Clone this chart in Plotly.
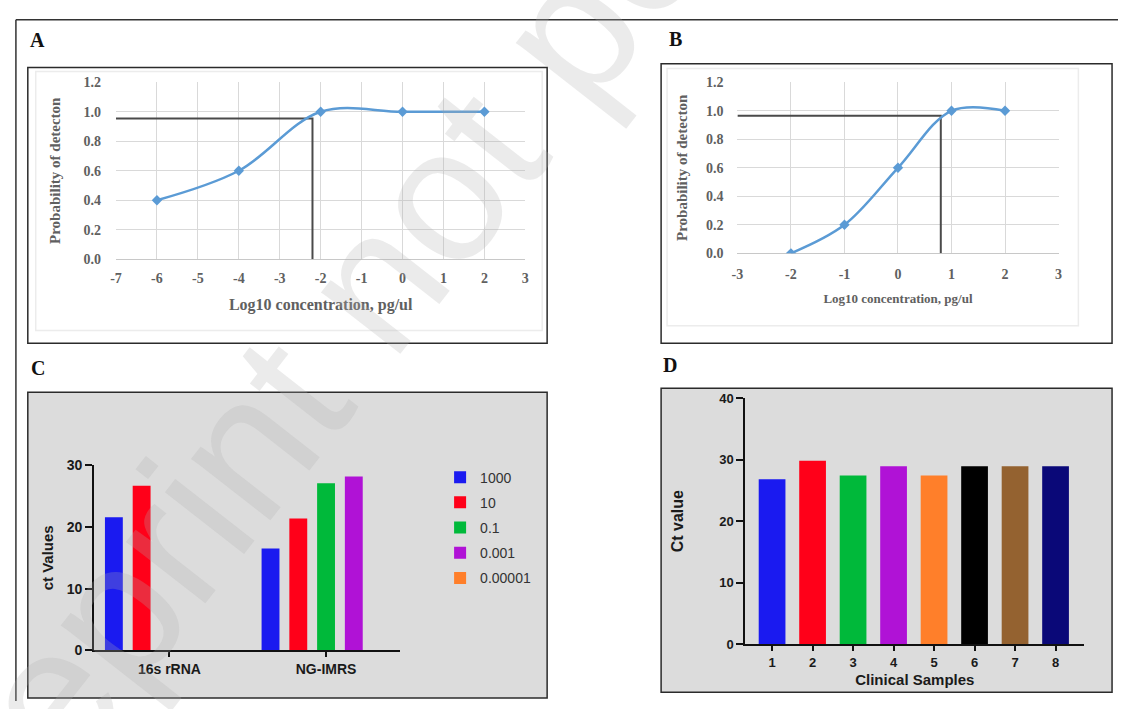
import plotly.graph_objects as go

W, H = 1122, 709

# ---------------- data ----------------
# Panel A: probability of detection vs log10 concentration
a_x = [-6, -4, -2, 0, 2]
a_y = [0.4, 0.6, 1.0, 1.0, 1.0]
a_lod_x = -2.2
a_lod_y = 0.955
a_xticks = [-7, -6, -5, -4, -3, -2, -1, 0, 1, 2, 3]
a_xticklabels = ["-7", "-6", "-5", "-4", "-3", "-2", "-1", "0", "1", "2", "3"]

# Panel B
b_x = [-2, -1, 0, 1, 2]
b_y = [0.0, 0.2, 0.6, 1.0, 1.0]
b_lod_x = 0.8
b_lod_y = 0.965
b_xticks = [-3, -2, -1, 0, 1, 2, 3]
b_xticklabels = ["-3", "-2", "-1", "0", "1", "2", "3"]

prob_ticks = [0.0, 0.2, 0.4, 0.6, 0.8, 1.0, 1.2]

# Panel C: ct values per assay and concentration
c_categories = ["16s rRNA", "NG-IMRS"]
c_series = ["1000", "10", "0.1", "0.001", "0.00001"]
c_1000 = [21.6, 16.5]
c_10 = [26.7, 21.4]
c_0_1 = [None, 27.1]
c_0_001 = [None, 28.2]
c_0_00001 = [None, None]
c_values = [c_1000, c_10, c_0_1, c_0_001, c_0_00001]
c_colors = ["#1a1af0", "#ff0019", "#00b93a", "#b012d6", "#ff7f2a"]

# Panel D: Ct value of clinical samples
d_samples = [1, 2, 3, 4, 5, 6, 7, 8]
d_ct = [26.8, 29.8, 27.4, 28.9, 27.4, 28.9, 28.9, 28.9]
d_colors = ["#1a1af0", "#ff0019", "#00b93a", "#b012d6", "#ff7f2a",
            "#000000", "#946230", "#0a0878"]


def px(x):
    return x / W


def py(y):
    return 1 - y / H


fig = go.Figure()

# ---------------- panel A ----------------
fig.add_trace(go.Scatter(
    x=[-7, a_lod_x, a_lod_x], y=[a_lod_y, a_lod_y, 0], mode="lines",
    line=dict(color="#4a4a4a", width=2), xaxis="x", yaxis="y",
    showlegend=False, hoverinfo="skip"))
fig.add_trace(go.Scatter(
    x=a_x, y=a_y, mode="lines+markers",
    line=dict(color="#5b9bd5", width=2.5, shape="spline", smoothing=1.0),
    marker=dict(symbol="diamond", size=8, color="#5b9bd5"),
    xaxis="x", yaxis="y", showlegend=False))

# ---------------- panel B ----------------
fig.add_trace(go.Scatter(
    x=[-3, b_lod_x, b_lod_x], y=[b_lod_y, b_lod_y, 0], mode="lines",
    line=dict(color="#4a4a4a", width=2), xaxis="x2", yaxis="y2",
    showlegend=False, hoverinfo="skip"))
fig.add_trace(go.Scatter(
    x=b_x, y=b_y, mode="lines+markers",
    line=dict(color="#5b9bd5", width=2.5, shape="spline", smoothing=1.0),
    marker=dict(symbol="diamond", size=8, color="#5b9bd5"),
    xaxis="x2", yaxis="y2", showlegend=False))

# ---------------- panel C ----------------
for name, vals, col in zip(c_series, c_values, c_colors):
    fig.add_trace(go.Bar(
        x=c_categories, y=vals, name=name, marker=dict(color=col, line=dict(width=0)),
        xaxis="x3", yaxis="y3", legendgroup=name, showlegend=True))

# ---------------- panel D ----------------
fig.add_trace(go.Bar(
    x=d_samples, y=d_ct, marker=dict(color=d_colors, line=dict(width=0)),
    width=0.66, xaxis="x4", yaxis="y4", showlegend=False))

serif = "Liberation Serif"
sans = "Liberation Sans, Arial"
excel_grey = "#606060"

tick_serif = dict(family=serif, size=14, color=excel_grey, weight="bold")

common_excel_x = dict(showgrid=True, gridcolor="#d9d9d9", gridwidth=1, zeroline=False,
                      showline=False, ticks="", fixedrange=True, tickfont=tick_serif)
common_excel_y = dict(showgrid=True, gridcolor="#d9d9d9", gridwidth=1, zeroline=True,
                      zerolinecolor="#c8c8c8", zerolinewidth=1, showline=False, ticks="",
                      tickvals=prob_ticks, tickformat=".1f", range=[0, 1.2],
                      tickfont=tick_serif, fixedrange=True)

prism_tick = dict(family=sans, size=14, color="#1a1a1a", weight="bold")

fig.update_layout(
    width=W, height=H,
    margin=dict(l=0, r=0, t=0, b=0),
    paper_bgcolor="white",
    plot_bgcolor="rgba(0,0,0,0)",
    barmode="group", bargap=0.114, bargroupgap=0.356,
    font=dict(family=sans),
    xaxis=dict(domain=[px(111), px(524)], range=[-7, 3], anchor="y",
               tickvals=a_xticks, ticktext=a_xticklabels, ticklabelstandoff=9,
               title=dict(text="Log10 concentration, pg/ul", standoff=13,
                          font=dict(family=serif, size=16, color=excel_grey, weight="bold")),
               **common_excel_x),
    yaxis=dict(domain=[py(257), py(76)], anchor="x", ticklabelstandoff=14,
               title=dict(text="Probability of detecton", standoff=19,
                          font=dict(family=serif, size=15, color=excel_grey, weight="bold")),
               **common_excel_y),
    xaxis2=dict(domain=[px(738), px(1062)], range=[-3, 3], anchor="y2",
                tickvals=b_xticks, ticktext=b_xticklabels, ticklabelstandoff=11,
                title=dict(text="Log10 concentration, pg/ul", standoff=12,
                           font=dict(family=serif, size=13, color=excel_grey, weight="bold")),
                **common_excel_x),
    yaxis2=dict(domain=[py(251), py(76)], anchor="x2", ticklabelstandoff=13,
                title=dict(text="Probability of detecton", standoff=14,
                           font=dict(family=serif, size=15, color=excel_grey, weight="bold")),
                **common_excel_y),
    xaxis3=dict(domain=[px(89), px(398)], range=[-0.48, 1.475], anchor="y3",
                type="category", showline=True, linecolor="#111", linewidth=2,
                ticks="outside", ticklen=5, tickwidth=2, tickcolor="#111",
                showgrid=False, zeroline=False, tickfont=prism_tick, fixedrange=True),
    yaxis3=dict(domain=[py(657), py(468)], range=[0, 30], anchor="x3",
                tickvals=[0, 10, 20, 30], showline=True, linecolor="#111", linewidth=2,
                ticks="outside", ticklen=7, tickwidth=2, tickcolor="#111",
                showgrid=False, zeroline=False, tickfont=prism_tick, fixedrange=True,
                title=dict(text="ct Values", standoff=10,
                           font=dict(family=sans, size=15, color="#1a1a1a", weight="bold"))),
    xaxis4=dict(domain=[px(746), px(1088)], range=[0.34, 8.71], anchor="y4",
                tickvals=d_samples, showline=True, linecolor="#111", linewidth=2,
                ticks="outside", ticklen=5, tickwidth=2, tickcolor="#111",
                showgrid=False, zeroline=False,
                tickfont=dict(family=sans, size=13, color="#1a1a1a", weight="bold"),
                fixedrange=True,
                title=dict(text="Clinical Samples", standoff=6,
                           font=dict(family=sans, size=15, color="#1a1a1a", weight="bold"))),
    yaxis4=dict(domain=[py(651), py(399)], range=[0, 40], anchor="x4",
                tickvals=[0, 10, 20, 30, 40], showline=True, linecolor="#111", linewidth=2,
                ticks="outside", ticklen=7, tickwidth=2, tickcolor="#111",
                showgrid=False, zeroline=False,
                tickfont=dict(family=sans, size=13, color="#1a1a1a", weight="bold"),
                fixedrange=True,
                title=dict(text="Ct value", standoff=32,
                           font=dict(family=sans, size=16, color="#1a1a1a", weight="bold"))),
    legend=dict(x=px(438), y=py(464), xanchor="left", yanchor="top",
                bgcolor="rgba(0,0,0,0)", borderwidth=0,
                font=dict(family=sans, size=14, color="#333333"),
                traceorder="grouped", tracegroupgap=4),
)

# ---------------- frames / boxes ----------------
shapes = []
shapes.append(dict(type="line", xref="paper", yref="paper", x0=px(10), x1=px(10),
                   y0=0, y1=py(12), line=dict(color="#333", width=1.5), layer="below"))
shapes.append(dict(type="line", xref="paper", yref="paper", x0=px(10), x1=1,
                   y0=py(12), y1=py(12), line=dict(color="#333", width=1.5), layer="below"))
for (x0, y0, x1, y1, fill) in [(22, 61, 546, 343, "white"),
                               (661, 57, 1116, 343, "white"),
                               (22, 393, 546, 706, "#dcdcdc"),
                               (661, 389, 1116, 700, "#dcdcdc")]:
    shapes.append(dict(type="rect", xref="paper", yref="paper",
                       x0=px(x0), x1=px(x1), y0=py(y1), y1=py(y0),
                       fillcolor=fill, line=dict(color="#2b2b2b", width=1.5), layer="below"))
for (x0, y0, x1, y1) in [(30, 65, 541, 330), (667, 62, 1082, 325)]:
    shapes.append(dict(type="rect", xref="paper", yref="paper",
                       x0=px(x0), x1=px(x1), y0=py(y1), y1=py(y0),
                       fillcolor="rgba(0,0,0,0)", line=dict(color="#ececec", width=1.5),
                       layer="below"))
fig.update_layout(shapes=shapes)

# ---------------- panel letters + watermark ----------------
annotations = []
for letter, cx, cy in [("A", 32, 33), ("B", 676, 32), ("C", 32, 368), ("D", 670, 365)]:
    annotations.append(dict(text=letter, xref="paper", yref="paper", x=px(cx), y=py(cy),
                            xanchor="center", yanchor="middle", showarrow=False,
                            font=dict(family=serif, size=20, color="#111", weight="bold")))
annotations.append(dict(text="preprint not peer reviewed", xref="paper", yref="paper",
                        x=px(590), y=py(-5), xanchor="center", yanchor="middle",
                        showarrow=False, textangle=-52,
                        font=dict(family=sans, size=190, color="rgba(175,175,175,0.25)")))
fig.update_layout(annotations=annotations)

fig.write_html("out.html", config={"displayModeBar": False},
               post_script="document.body.style.margin='0px';document.body.style.padding='0px';")
